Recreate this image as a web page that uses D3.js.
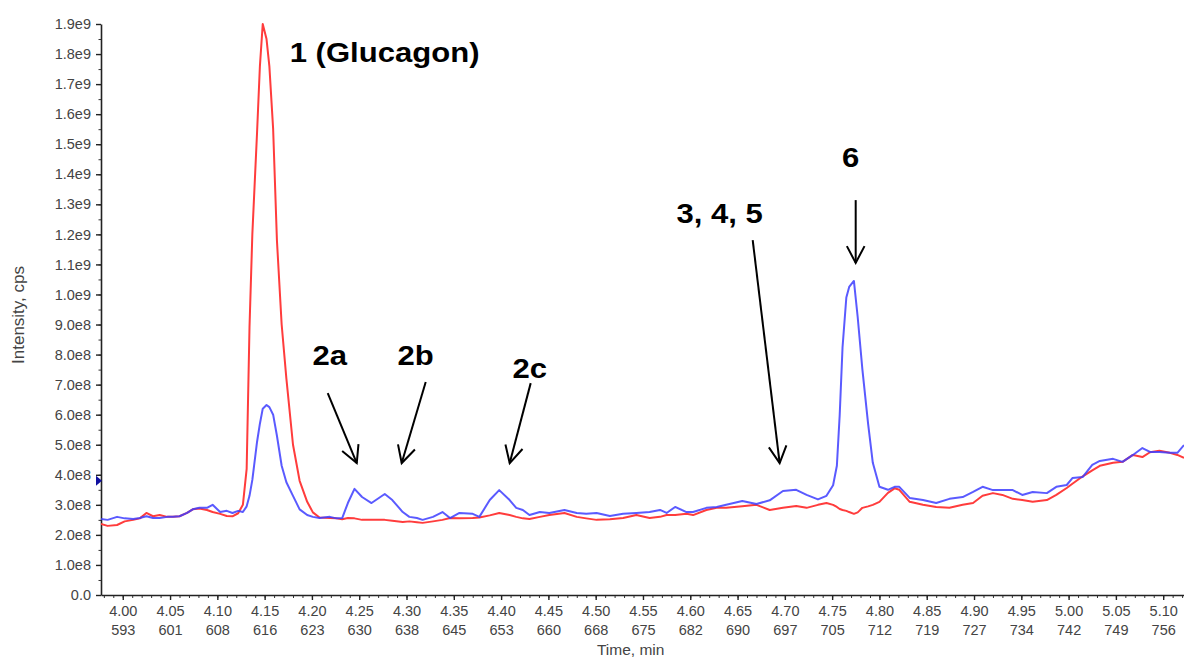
<!DOCTYPE html>
<html>
<head>
<meta charset="utf-8">
<script src="https://cdn.jsdelivr.net/npm/d3@7"></script>
<style>
  body { margin: 0; background: #fff; }
  text { font-family: "Liberation Sans", Arial, sans-serif; }
</style>
</head>
<body>
<div id="graph"></div>
<script>
// retention time (min) of each sample
const times = [3.977, 3.984, 3.994, 4.002, 4.011, 4.018, 4.025, 4.032, 4.039, 4.047,
    4.053, 4.060, 4.068, 4.074, 4.081, 4.089, 4.095, 4.103, 4.110, 4.116,
    4.122, 4.127, 4.131, 4.134, 4.137, 4.142, 4.145, 4.148, 4.152, 4.155,
    4.159, 4.163, 4.168, 4.173, 4.180, 4.187, 4.195, 4.201, 4.208, 4.219,
    4.226, 4.232, 4.238, 4.245, 4.253, 4.263, 4.277, 4.285, 4.296, 4.303,
    4.311, 4.317, 4.328, 4.338, 4.346, 4.356, 4.370, 4.377, 4.388, 4.398,
    4.409, 4.416, 4.423, 4.430, 4.441, 4.451, 4.467, 4.480, 4.490, 4.501,
    4.515, 4.529, 4.543, 4.557, 4.568, 4.575, 4.584, 4.596, 4.603, 4.617,
    4.628, 4.638, 4.655, 4.670, 4.684, 4.698, 4.712, 4.723, 4.735, 4.744,
    4.751, 4.755, 4.758, 4.761, 4.765, 4.768, 4.773, 4.777, 4.782, 4.788,
    4.793, 4.800, 4.809, 4.816, 4.821, 4.832, 4.846, 4.860, 4.874, 4.888,
    4.899, 4.909, 4.920, 4.930, 4.941, 4.951, 4.962, 4.977, 4.987, 4.998,
    5.004, 5.015, 5.025, 5.033, 5.047, 5.057, 5.068, 5.078, 5.086, 5.096,
    5.107, 5.115, 5.122];

// blue trace, intensity in units of 1e8 cps
const blueTrace = [2.53, 2.50, 2.60, 2.55, 2.53, 2.56, 2.62, 2.56, 2.56, 2.60,
    2.60, 2.62, 2.73, 2.85, 2.90, 2.90, 3.00, 2.76, 2.80, 2.73,
    2.80, 2.76, 2.95, 3.30, 3.83, 5.10, 5.70, 6.20, 6.32, 6.25,
    6.00, 5.30, 4.30, 3.75, 3.30, 2.85, 2.66, 2.60, 2.56, 2.60,
    2.55, 2.56, 3.06, 3.53, 3.26, 3.06, 3.36, 3.16, 2.76, 2.60,
    2.56, 2.50, 2.60, 2.76, 2.56, 2.73, 2.70, 2.60, 3.16, 3.49,
    3.16, 2.90, 2.83, 2.66, 2.76, 2.73, 2.83, 2.73, 2.70, 2.73,
    2.63, 2.70, 2.73, 2.76, 2.83, 2.73, 2.93, 2.76, 2.76, 2.90,
    2.93, 3.00, 3.13, 3.03, 3.15, 3.46, 3.50, 3.33, 3.18, 3.30,
    3.65, 4.30, 6.00, 8.25, 9.90, 10.25, 10.45, 9.25, 7.50, 5.70,
    4.40, 3.60, 3.50, 3.60, 3.60, 3.23, 3.16, 3.06, 3.20, 3.26,
    3.43, 3.60, 3.49, 3.49, 3.49, 3.33, 3.43, 3.39, 3.60, 3.66,
    3.89, 3.93, 4.33, 4.46, 4.53, 4.43, 4.66, 4.89, 4.76, 4.76,
    4.73, 4.73, 4.99];

// red trace, intensity in units of 1e8 cps
const redTrace = [2.36, 2.30, 2.33, 2.45, 2.50, 2.55, 2.73, 2.62, 2.66, 2.60,
    2.60, 2.62, 2.73, 2.85, 2.88, 2.83, 2.76, 2.70, 2.63, 2.62,
    2.72, 3.00, 4.20, 8.90, 12.0, 15.4, 17.6, 19.0, 18.5, 17.6,
    15.5, 11.8, 9.00, 7.20, 5.00, 3.80, 3.10, 2.75, 2.58, 2.56,
    2.55, 2.52, 2.56, 2.55, 2.50, 2.50, 2.50, 2.47, 2.43, 2.45,
    2.42, 2.40, 2.45, 2.50, 2.56, 2.55, 2.56, 2.58, 2.65, 2.73,
    2.66, 2.60, 2.55, 2.53, 2.60, 2.66, 2.73, 2.60, 2.55, 2.50,
    2.52, 2.56, 2.66, 2.56, 2.60, 2.66, 2.66, 2.70, 2.66, 2.83,
    2.90, 2.90, 2.95, 3.00, 2.83, 2.90, 2.96, 2.90, 3.00, 3.06,
    3.00, 2.93, 2.86, 2.83, 2.80, 2.76, 2.70, 2.75, 2.90, 2.95,
    3.00, 3.10, 3.40, 3.55, 3.50, 3.10, 3.00, 2.93, 2.90, 3.00,
    3.06, 3.30, 3.39, 3.33, 3.20, 3.16, 3.10, 3.16, 3.33, 3.56,
    3.70, 3.95, 4.15, 4.30, 4.40, 4.43, 4.66, 4.59, 4.75, 4.80,
    4.73, 4.66, 4.56];

// x axis: time labels and scan numbers underneath
const timeTicks = ["4.00", "4.05", "4.10", "4.15", "4.20", "4.25", "4.30", "4.35", "4.40", "4.45", "4.50",
    "4.55", "4.60", "4.65", "4.70", "4.75", "4.80", "4.85", "4.90", "4.95", "5.00", "5.05", "5.10"];
const scanTicks = ["593", "601", "608", "616", "623", "630", "638", "645", "653", "660", "668",
    "675", "682", "690", "697", "705", "712", "719", "727", "734", "742", "749", "756"];

// peak labels and arrows: [time, intensity 1e8]
const labels = [
    { text: "1 (Glucagon)", t: 4.1765, v: 17.74, anchor: "start" },
    { text: "2a", t: 4.2188, v: 7.65, anchor: "middle" },
    { text: "2b", t: 4.3097, v: 7.65, anchor: "middle" },
    { text: "2c", t: 4.4302, v: 7.22, anchor: "middle" },
    { text: "3, 4, 5", t: 4.6311, v: 12.38, anchor: "middle" },
    { text: "6", t: 4.7696, v: 14.24, anchor: "middle" }
];
const arrows = [
    { t0: 4.2167, v0: 6.72, t1: 4.2474, v1: 4.39 },
    { t0: 4.3203, v0: 7.09, t1: 4.2949, v1: 4.39 },
    { t0: 4.4313, v0: 7.05, t1: 4.4091, v1: 4.39 },
    { t0: 4.6660, v0: 11.81, t1: 4.6945, v1: 4.39 },
    { t0: 4.7749, v0: 13.14, t1: 4.7749, v1: 11.05 }
];
const markerValue = 3.8;

const margin = { top: 24, right: 0, bottom: 62, left: 101 },
    width = 1184 - margin.left - margin.right,
    height = 657 - margin.top - margin.bottom;

let svg = d3.select("#graph")
    .append("svg")
    .attr("width", width + margin.left + margin.right)
    .attr("height", height + margin.top + margin.bottom)
    .append("g")
    .attr("transform", "translate(" + margin.left + "," + margin.top + ")");

let x = d3.scaleLinear().domain([3.977, 5.122]).range([0, width]);
let y = d3.scaleLinear().domain([0, 19e8]).range([height, 0]);

// y axis
const fmt = (v) => {
    if (v === 0) return "0.0";
    let e = Math.floor(Math.log10(v) + 1e-9);
    return (v / Math.pow(10, e)).toFixed(1) + "e" + e;
};

svg.append("g")
    .call(d3.axisLeft(y).tickValues(d3.range(0, 19.01e8, 0.5e8)).tickSize(2.5).tickFormat(""))
    .call(g => g.select(".domain").remove())
    .selectAll("line").attr("stroke", "#333");

let yAxis = svg.append("g")
    .call(d3.axisLeft(y).tickValues(d3.range(0, 19.01e8, 1e8)).tickSize(5).tickSizeOuter(0).tickPadding(5).tickFormat(fmt));
yAxis.select(".domain").attr("stroke", "#222").attr("stroke-width", 1.6);
yAxis.selectAll("line").attr("stroke", "#222").attr("stroke-width", 1.4);
yAxis.selectAll("text").attr("font-size", "14.5px").attr("fill", "#444")
    .attr("font-family", "'Liberation Sans', Arial, sans-serif");

svg.append("text")
    .attr("transform", "translate(" + (18 - margin.left) + "," + (315 - margin.top) + ") rotate(-90)")
    .style("text-anchor", "middle")
    .attr("dy", "0.35em")
    .attr("font-size", "17px")
    .attr("fill", "#444")
    .text("Intensity, cps");

// x axis
svg.append("g")
    .attr("transform", "translate(0," + height + ")")
    .call(d3.axisBottom(x).tickValues(d3.range(3.98, 5.125, 0.01)).tickSize(3).tickFormat(""))
    .call(g => g.select(".domain").remove())
    .selectAll("line").attr("stroke", "#333");

let xAxis = svg.append("g")
    .attr("transform", "translate(0," + height + ")")
    .call(d3.axisBottom(x).tickValues(timeTicks.map(Number)).tickSize(5).tickSizeOuter(0).tickPadding(6)
        .tickFormat((d, i) => timeTicks[i]));
xAxis.select(".domain").attr("stroke", "#222").attr("stroke-width", 1.6);
xAxis.selectAll("line").attr("stroke", "#222").attr("stroke-width", 1.4);
xAxis.selectAll("text").attr("font-size", "14.5px").attr("fill", "#444")
    .attr("font-family", "'Liberation Sans', Arial, sans-serif");
xAxis.selectAll(".tick").append("text")
    .attr("y", 30)
    .attr("dy", "0.71em")
    .attr("fill", "#444")
    .attr("font-size", "14.5px")
    .text((d, i) => scanTicks[i]);

svg.append("text")
    .attr("x", x(4.537))
    .attr("y", 655 - margin.top)
    .style("text-anchor", "middle")
    .attr("font-size", "15.5px")
    .attr("fill", "#444")
    .text("Time, min");

// traces
svg.append("clipPath").attr("id", "plot")
    .append("rect").attr("x", 0).attr("y", -5).attr("width", width).attr("height", height + 5);

let line = d3.line()
    .x((d) => x(d[0]))
    .y((d) => y(d[1] * 1e8));

svg.append("path")
    .datum(times.map((t, i) => [t, redTrace[i]]))
    .attr("d", line)
    .attr("clip-path", "url(#plot)")
    .attr("stroke", "#ff3c3c")
    .style("stroke-width", 2)
    .style("stroke-linejoin", "round")
    .style("fill", "none");

svg.append("path")
    .datum(times.map((t, i) => [t, blueTrace[i]]))
    .attr("d", line)
    .attr("clip-path", "url(#plot)")
    .attr("stroke", "#3d3dff")
    .attr("stroke-opacity", 0.85)
    .style("stroke-width", 2)
    .style("stroke-linejoin", "round")
    .style("fill", "none");

// blue marker on the y axis
let my = y(markerValue * 1e8);
svg.append("path")
    .attr("d", "M-5," + (my - 5) + "L1," + my + "L-5," + (my + 5) + "Z")
    .attr("fill", "#1010a0");

// annotations
labels.forEach((d) => {
    svg.append("text")
        .attr("transform", "translate(" + x(d.t) + "," + y(d.v * 1e8) + ") scale(1.13,1)")
        .style("text-anchor", d.anchor)
        .attr("font-size", "27.5px")
        .attr("font-weight", "bold")
        .attr("fill", "#000")
        .text(d.text);
});

arrows.forEach((d) => {
    let x0 = x(d.t0), y0 = y(d.v0 * 1e8), x1 = x(d.t1), y1 = y(d.v1 * 1e8);
    let a = Math.atan2(y1 - y0, x1 - x0), len = 19, spread = Math.PI / 6.5;
    let g = svg.append("g").attr("stroke", "#000").attr("stroke-width", 2).attr("fill", "none");
    g.append("line").attr("x1", x0).attr("y1", y0).attr("x2", x1).attr("y2", y1);
    g.append("path")
        .attr("d", "M" + (x1 - len * Math.cos(a - spread)) + "," + (y1 - len * Math.sin(a - spread)) +
            "L" + x1 + "," + y1 +
            "L" + (x1 - len * Math.cos(a + spread)) + "," + (y1 - len * Math.sin(a + spread)));
});
</script>
</body>
</html>
